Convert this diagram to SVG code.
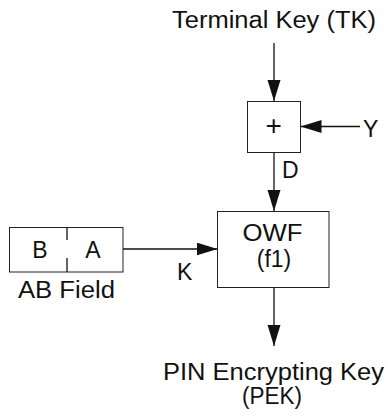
<svg xmlns="http://www.w3.org/2000/svg" width="389" height="416" viewBox="0 0 389 416">
<defs>
<style>
text{font-family:"Liberation Sans",Arial,sans-serif;font-size:23px;fill:#111}
.box{fill:#fff;stroke:#222;stroke-width:1}
.ln{fill:none;stroke:#111;stroke-width:1.3}
</style>
<marker id="ah" markerUnits="userSpaceOnUse" markerWidth="22" markerHeight="14" refX="21" refY="6.5" orient="auto">
<path d="M0,0 L21,6.5 L0,13 Z" fill="#111"/>
</marker>
</defs>
<rect width="389" height="416" fill="#fff"/>
<g id="connectors">
<line class="ln" x1="274" y1="43" x2="274" y2="101" marker-end="url(#ah)"/>
<line class="ln" x1="360" y1="126.5" x2="300.5" y2="126.5" marker-end="url(#ah)"/>
<line class="ln" x1="274" y1="152" x2="274" y2="211" marker-end="url(#ah)"/>
<line class="ln" x1="123" y1="249" x2="217.5" y2="249" marker-end="url(#ah)"/>
<line class="ln" x1="274" y1="287" x2="274" y2="346" marker-end="url(#ah)"/>
</g>
<g id="tk"><text x="172" y="28" textLength="204" lengthAdjust="spacingAndGlyphs">Terminal Key (TK)</text></g>
<g id="plus">
<rect class="box" x="247.5" y="101.5" width="53" height="51"/>
<text x="273.7" y="135.3" text-anchor="middle" style="font-size:28px">+</text>
</g>
<g id="y"><text x="363" y="137">Y</text></g>
<g id="d"><text x="282" y="178">D</text></g>
<g id="owf">
<rect class="box" x="217.5" y="211.5" width="111.5" height="76"/>
<text x="272.5" y="241" text-anchor="middle" textLength="60" lengthAdjust="spacingAndGlyphs">OWF</text>
<text x="274" y="267" text-anchor="middle">(f1)</text>
</g>
<g id="ab">
<rect class="box" x="9.5" y="227.5" width="113.5" height="44.5"/>
<line class="ln" x1="67" y1="227.5" x2="67" y2="240" stroke-width="1"/>
<line class="ln" x1="67" y1="258" x2="67" y2="272" stroke-width="1"/>
<text x="40" y="258" text-anchor="middle">B</text>
<text x="93" y="258" text-anchor="middle">A</text>
<text x="18" y="298" textLength="97" lengthAdjust="spacingAndGlyphs">AB Field</text>
</g>
<g id="k"><text x="177" y="280">K</text></g>
<g id="pek">
<text x="163" y="380" textLength="221" lengthAdjust="spacingAndGlyphs">PIN Encrypting Key</text>
<text x="272" y="404" text-anchor="middle" textLength="60" lengthAdjust="spacingAndGlyphs">(PEK)</text>
</g>
</svg>
